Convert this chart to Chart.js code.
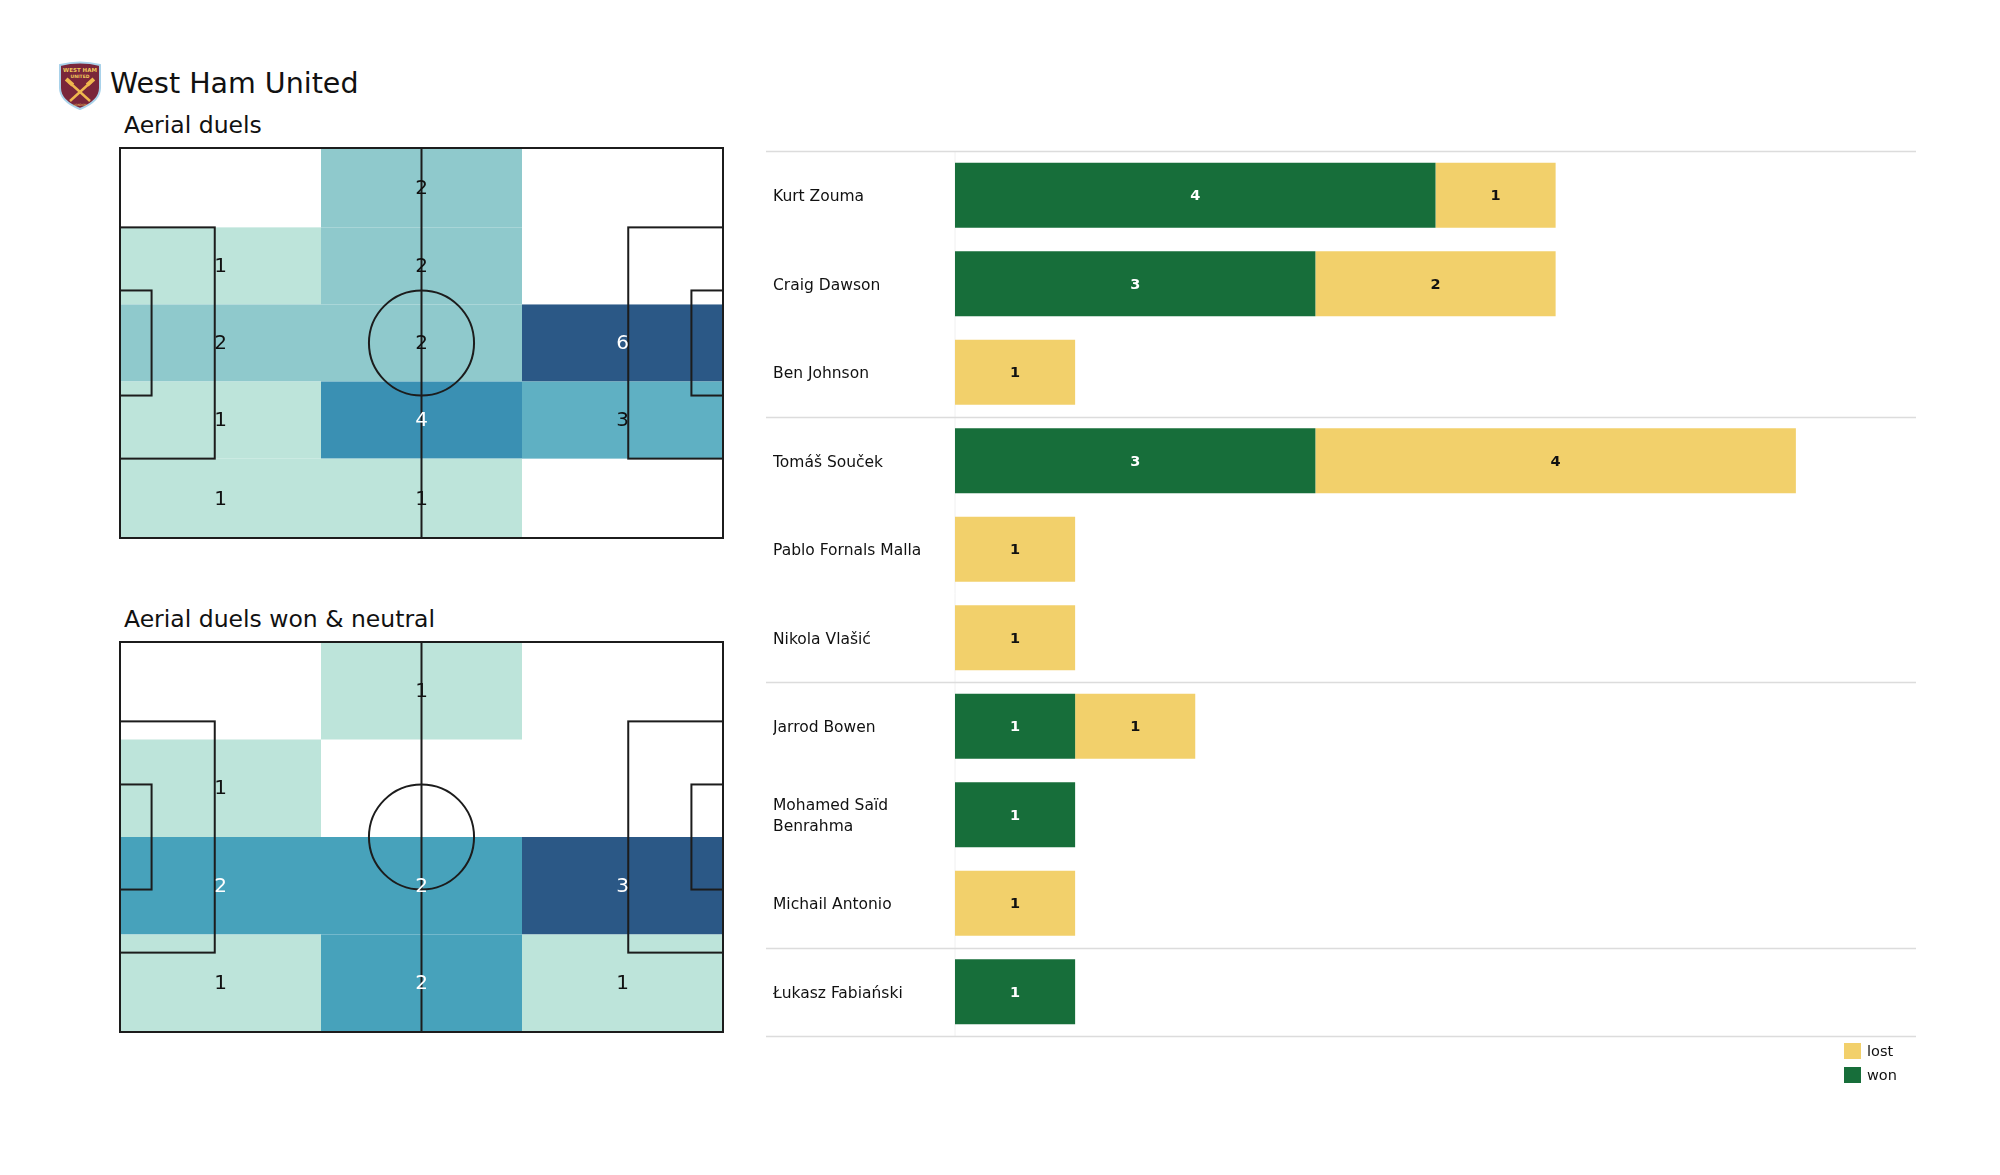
<!DOCTYPE html>
<html>
<head>
<meta charset="utf-8">
<title>West Ham United - Aerial duels</title>
<script src="https://cdn.jsdelivr.net/npm/chart.js@4.4.1/dist/chart.umd.min.js"></script>
<style>
  body { margin: 0; background: #fff; font-family: 'DejaVu Sans', sans-serif; }
  #page { position: relative; width: 2000px; height: 1175px; overflow: hidden; }
  .abs { position: absolute; }
  .title { position: absolute; line-height: 1; white-space: nowrap; color: #111; }
  .legend { position: absolute; left: 1844px; top: 1043px; font-size: 14.5px; color: #111; }
  .legend div { height: 24px; display: flex; align-items: flex-start; }
  .legend span.sw { display: inline-block; width: 17px; height: 16px; margin-right: 6px; }
  .legend span.tx { line-height: 16px; }
</style>
</head>
<body>
<div id="page">
  <svg class="abs" style="left:57px;top:61px" width="46" height="49" viewBox="0 0 46 49">
    <path d="M3 4 Q23 -1 43 4 L43 27 Q43 40 23 48 Q3 40 3 27 Z" fill="#7a263a" stroke="#a9d2ea" stroke-width="2"/>
    <text x="23" y="11" font-size="5.5" font-weight="bold" fill="#f0c75a" text-anchor="middle" font-family="DejaVu Sans">WEST HAM</text>
    <text x="23" y="16.5" font-size="4.5" font-weight="bold" fill="#f0c75a" text-anchor="middle" font-family="DejaVu Sans">UNITED</text>
    <line x1="12" y1="21" x2="33" y2="40" stroke="#f0b84e" stroke-width="2.4"/>
    <line x1="34" y1="21" x2="13" y2="40" stroke="#f0b84e" stroke-width="2.4"/>
    <rect x="8" y="19" width="9" height="4" fill="#f0b84e" transform="rotate(42 12.5 21)"/>
    <rect x="29" y="19" width="9" height="4" fill="#f0b84e" transform="rotate(-42 33.5 21)"/>
    <text x="23" y="45" font-size="3" fill="#f0c75a" text-anchor="middle" font-family="DejaVu Sans">LONDON</text>
  </svg>
  <div class="title" style="left:110px;top:70px;font-size:28.5px">West Ham United</div>
  <div class="title" style="left:124px;top:114px;font-size:23.5px">Aerial duels</div>
  <div class="title" style="left:124px;top:608px;font-size:23.5px">Aerial duels won &amp; neutral</div>

  <canvas id="pitchAll" class="abs" style="left:116px;top:144px" width="611" height="398"></canvas>
  <canvas id="pitchWon" class="abs" style="left:116px;top:638px" width="611" height="398"></canvas>
  <canvas id="bars" class="abs" style="left:760px;top:140px" width="1170" height="910"></canvas>
  <div class="legend" id="legend"></div>
</div>

<script>
  // Pitch size in metres and heatmap bins
  const pitchLength = 105;
  const pitchWidth = 68;

  // Aerial duels (all): 5 rows x 3 columns, top row first
  const allColEdges = [0, 35, 70, 105];
  const allRowEdges = [0, 13.84, 27.28, 40.72, 54.16, 68];
  const allDuels = [
    [0, 2, 0],
    [1, 2, 0],
    [2, 2, 6],
    [1, 4, 3],
    [1, 1, 0]
  ];

  // Aerial duels won & neutral: 4 rows x 3 columns
  const wonColEdges = [0, 35, 70, 105];
  const wonRowEdges = [0, 17, 34, 51, 68];
  const wonDuels = [
    [0, 1, 0],
    [1, 0, 0],
    [2, 2, 3],
    [1, 2, 1]
  ];

  // Players by position group
  const players = [
    'Kurt Zouma', 'Craig Dawson', 'Ben Johnson',
    'Tomáš Souček', 'Pablo Fornals Malla', 'Nikola Vlašić',
    'Jarrod Bowen', ['Mohamed Saïd', 'Benrahma'], 'Michail Antonio',
    'Łukasz Fabiański'
  ];
  const duelsWon = [4, 3, 0, 3, 0, 0, 1, 1, 0, 1];
  const duelsLost = [1, 2, 1, 4, 1, 1, 1, 0, 1, 0];
  const groupStarts = [0, 3, 6, 9];

  const FONT = 'DejaVu Sans';
  const WON_COLOR = '#176e3a';
  const LOST_COLOR = '#f2d06b';

  // colour ramp for heatmap cells (0 = smallest non-zero, 1 = max)
  const ramp = [
    [0, [189, 228, 218]],
    [0.2, [143, 201, 204]],
    [0.4, [95, 176, 195]],
    [0.5, [71, 162, 187]],
    [0.6, [58, 144, 179]],
    [1, [43, 88, 134]]
  ];
  function rampColor(t) {
    for (let i = 1; i < ramp.length; i++) {
      if (t <= ramp[i][0]) {
        const [t0, c0] = ramp[i - 1];
        const [t1, c1] = ramp[i];
        const f = (t - t0) / (t1 - t0);
        const c = c0.map((v, k) => Math.round(v + (c1[k] - v) * f));
        return `rgb(${c[0]},${c[1]},${c[2]})`;
      }
    }
    const c = ramp[ramp.length - 1][1];
    return `rgb(${c[0]},${c[1]},${c[2]})`;
  }

  function buildCells(rowEdges, colEdges, values) {
    const cells = [];
    values.forEach((row, r) => {
      row.forEach((v, c) => {
        cells.push({
          x: (colEdges[c] + colEdges[c + 1]) / 2,
          y: (rowEdges[r] + rowEdges[r + 1]) / 2,
          x0: colEdges[c], x1: colEdges[c + 1],
          y0: rowEdges[r], y1: rowEdges[r + 1],
          v: v
        });
      });
    });
    return cells;
  }

  // draws heatmap cells, pitch markings and counts
  const pitchPlugin = {
    id: 'pitch',
    beforeDatasetsDraw(chart) {
      const { ctx, scales: { x, y } } = chart;
      const cells = chart.data.datasets[0].data;
      const nz = cells.filter(c => c.v > 0).map(c => c.v);
      const lo = Math.min(...nz), hi = Math.max(...nz);
      ctx.save();
      cells.forEach(c => {
        if (!c.v) return;
        const t = hi === lo ? 0 : (c.v - lo) / (hi - lo);
        c.t = t;
        ctx.fillStyle = rampColor(t);
        const px0 = x.getPixelForValue(c.x0), px1 = x.getPixelForValue(c.x1);
        const py0 = y.getPixelForValue(c.y0), py1 = y.getPixelForValue(c.y1);
        ctx.fillRect(px0, py0, px1 - px0, py1 - py0);
      });

      // pitch lines
      ctx.strokeStyle = '#1c1c1c';
      ctx.lineWidth = 2;
      const rect = (a, b, c, d) => {
        const px0 = x.getPixelForValue(a), px1 = x.getPixelForValue(c);
        const py0 = y.getPixelForValue(b), py1 = y.getPixelForValue(d);
        ctx.strokeRect(px0, py0, px1 - px0, py1 - py0);
      };
      rect(0, 0, pitchLength, pitchWidth);
      rect(0, 13.84, 16.5, 54.16);
      rect(0, 24.84, 5.5, 43.16);
      rect(pitchLength - 16.5, 13.84, pitchLength, 54.16);
      rect(pitchLength - 5.5, 24.84, pitchLength, 43.16);
      const mx = x.getPixelForValue(pitchLength / 2);
      ctx.beginPath();
      ctx.moveTo(mx, y.getPixelForValue(0));
      ctx.lineTo(mx, y.getPixelForValue(pitchWidth));
      ctx.stroke();
      const cy = y.getPixelForValue(pitchWidth / 2);
      const rx = x.getPixelForValue(pitchLength / 2 + 9.15) - mx;
      const ry = Math.abs(y.getPixelForValue(pitchWidth / 2 + 9.15) - cy);
      ctx.beginPath();
      ctx.ellipse(mx, cy, rx, ry, 0, 0, Math.PI * 2);
      ctx.stroke();

      // counts
      ctx.font = `20px "${FONT}"`;
      ctx.textAlign = 'center';
      ctx.textBaseline = 'middle';
      cells.forEach(c => {
        if (!c.v) return;
        ctx.fillStyle = c.t >= 0.5 ? '#ffffff' : '#111111';
        ctx.fillText(String(c.v), x.getPixelForValue(c.x), y.getPixelForValue(c.y) + 1);
      });
      ctx.restore();
    }
  };

  function pitchChart(id, rowEdges, colEdges, values) {
    const ctx = document.getElementById(id).getContext('2d');
    return new Chart(ctx, {
      type: 'scatter',
      data: {
        datasets: [{ data: buildCells(rowEdges, colEdges, values), pointRadius: 0 }]
      },
      options: {
        responsive: false,
        animation: false,
        layout: { padding: 4 },
        plugins: { legend: { display: false }, tooltip: { enabled: false } },
        scales: {
          x: { type: 'linear', min: 0, max: pitchLength, display: false },
          y: { type: 'linear', min: 0, max: pitchWidth, reverse: true, display: false }
        }
      },
      plugins: [pitchPlugin]
    });
  }

  pitchChart('pitchAll', allRowEdges, allColEdges, allDuels);
  pitchChart('pitchWon', wonRowEdges, wonColEdges, wonDuels);

  // group separator lines across label column and bars
  const separators = {
    id: 'separators',
    beforeDatasetsDraw(chart) {
      const { ctx, chartArea, scales: { y } } = chart;
      const step = y.getPixelForValue(1) - y.getPixelForValue(0);
      ctx.save();
      ctx.strokeStyle = '#f0f0f0';
      ctx.lineWidth = 1;
      ctx.beginPath();
      ctx.moveTo(chartArea.left, chartArea.top);
      ctx.lineTo(chartArea.left, chartArea.bottom);
      ctx.stroke();
      ctx.strokeStyle = '#dcdcdc';
      ctx.lineWidth = 1.5;
      groupStarts.concat([players.length]).forEach(k => {
        const py = Math.round(y.getPixelForValue(0) + (k - 0.5) * step) + 0.5;
        ctx.beginPath();
        ctx.moveTo(6, py);
        ctx.lineTo(chartArea.right, py);
        ctx.stroke();
      });
      ctx.restore();
    }
  };

  // counts inside the bars
  const valueLabels = {
    id: 'valueLabels',
    afterDatasetsDraw(chart) {
      const { ctx } = chart;
      ctx.save();
      ctx.font = `bold 14.5px "${FONT}"`;
      ctx.textAlign = 'center';
      ctx.textBaseline = 'middle';
      chart.data.datasets.forEach((ds, i) => {
        chart.getDatasetMeta(i).data.forEach((bar, j) => {
          const v = ds.data[j];
          if (!v) return;
          const p = bar.getProps(['x', 'y', 'base'], true);
          ctx.fillStyle = ds.labelColor;
          ctx.fillText(String(v), (p.x + p.base) / 2, p.y + 1);
        });
      });
      ctx.restore();
    }
  };

  const barChart = new Chart(document.getElementById('bars').getContext('2d'), {
    type: 'bar',
    data: {
      labels: players,
      datasets: [
        { label: 'won', data: duelsWon, backgroundColor: WON_COLOR, labelColor: '#ffffff' },
        { label: 'lost', data: duelsLost, backgroundColor: LOST_COLOR, labelColor: '#111111' }
      ]
    },
    options: {
      indexAxis: 'y',
      responsive: false,
      animation: false,
      layout: { padding: { left: 13, right: 14, top: 11, bottom: 14 } },
      datasets: { bar: { barPercentage: 1, categoryPercentage: 0.735 } },
      plugins: { legend: { display: false }, tooltip: { enabled: false } },
      scales: {
        x: { stacked: true, min: 0, max: 8, display: false },
        y: {
          stacked: true,
          grid: { display: false },
          border: { display: false },
          ticks: {
            crossAlign: 'far',
            color: '#111',
            padding: 0,
            labelOffset: 2,
            font: { family: FONT, size: 15.5, lineHeight: 1.35 }
          },
          afterFit: s => { s.width = 182; }
        }
      }
    },
    plugins: [separators, valueLabels]
  });

  // legend: lost above won
  const legend = document.getElementById('legend');
  barChart.data.datasets.slice().reverse().forEach(ds => {
    const row = document.createElement('div');
    row.innerHTML = `<span class="sw" style="background:${ds.backgroundColor}"></span><span class="tx">${ds.label}</span>`;
    legend.appendChild(row);
  });
</script>
</body>
</html>
